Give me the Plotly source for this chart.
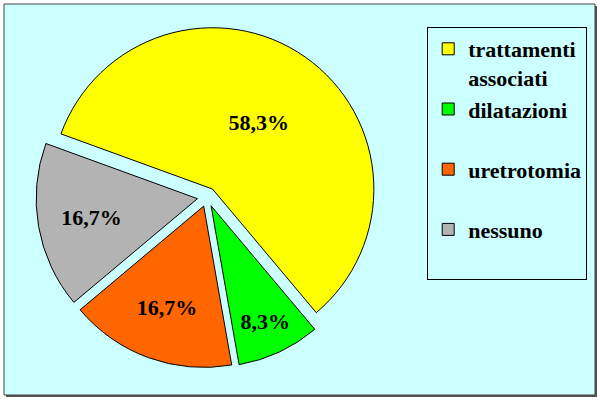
import plotly.graph_objects as go

labels = ["<b>trattamenti<br>associati</b>", "<b>dilatazioni</b><br>&nbsp;", "<b>uretrotomia</b><br>&nbsp;", "<b>nessuno</b><br>&nbsp;"]
values = [7, 1, 2, 2]
text_labels = ["58,3%", "8,3%", "16,7%", "16,7%"]
colors = ["#FFFF00", "#00FF00", "#FF6600", "#B3B3B3"]

SERIF = "Liberation Serif"

fig = go.Figure(go.Pie(
    labels=labels,
    values=values,
    text=text_labels,
    textinfo="text",
    textposition="inside",
    insidetextorientation="horizontal",
    textfont=dict(family=SERIF, size=22, color="black", weight="bold"),
    marker=dict(colors=colors, line=dict(color="black", width=1)),
    sort=False,
    direction="clockwise",
    rotation=290,
    pull=[0.06, 0.06, 0.06, 0.06],
    hoverinfo="skip",
    domain=dict(x=[0.058, 0.632], y=[0.08, 0.935]),
))

fig.update_layout(
    width=600, height=400,
    margin=dict(l=0, r=0, t=0, b=0),
    paper_bgcolor="white",
    plot_bgcolor="white",
    font=dict(family=SERIF, size=22, color="black"),
    showlegend=True,
    legend=dict(
        x=0.712, y=0.9325, xanchor="left", yanchor="top",
        bgcolor="#CCFFFF", bordercolor="black", borderwidth=1,
        font=dict(family=SERIF, size=22, color="black"),
        valign="top", itemwidth=30,
    ),
    shapes=[
        dict(type="rect", xref="paper", yref="paper", x0=6/600, x1=597/600, y0=1-397/400, y1=1-6/400,
             fillcolor="#555555", line=dict(width=0), layer="below"),
        dict(type="rect", xref="paper", yref="paper", x0=4/600, x1=595/600, y0=1-395/400, y1=1-4/400,
             fillcolor="#CCFFFF", line=dict(color="#444444", width=1), layer="below"),
    ],
)

fig.write_html("out.html", config={"displayModeBar": False},
               post_script="document.body.style.margin='0';document.body.style.padding='0';")
